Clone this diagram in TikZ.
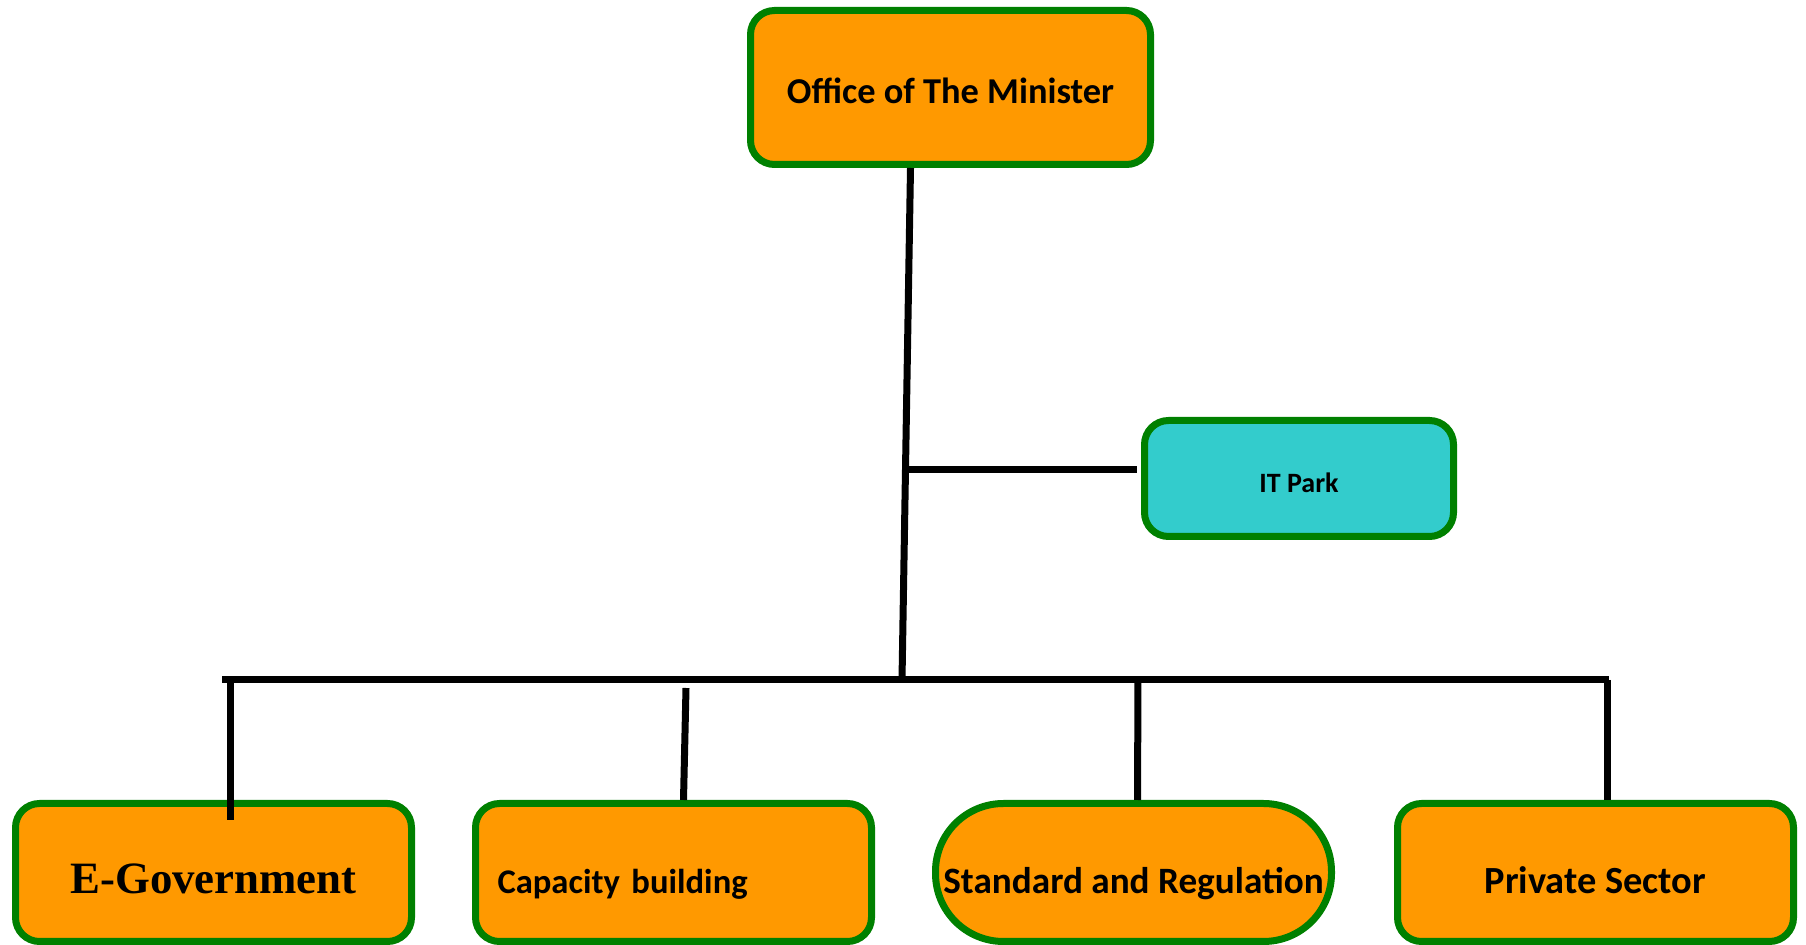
\documentclass[tikz,border=0pt]{standalone}
\usepackage{fontspec}
\setmainfont{Carlito}
\newfontfamily\timesfont{Liberation Serif}
\usetikzlibrary{positioning}
\definecolor{boxorange}{HTML}{FF9900}
\definecolor{boxgreen}{HTML}{008000}
\definecolor{boxcyan}{HTML}{33CCCC}

\begin{document}
\begin{tikzpicture}[x=0.5pt,y=-0.5pt,
				unitbox/.style={rectangle, rounded corners=12pt, draw=boxgreen, line width=3.5pt, fill=boxorange, minimum width=198pt, minimum height=69pt, text height=21.5pt, text depth=0pt, font=\bfseries\fontsize{18.6}{22}\selectfont},
				parkbox/.style={unitbox, fill=boxcyan, minimum width=154.5pt, minimum height=58pt, text height=14.5pt, font=\bfseries\fontsize{14}{16}\selectfont},
				link/.style={line width=3.5pt, black},
				]
				\useasboundingbox (0,0) rectangle (1806,945);
				%Nodes
				\node[unitbox, minimum width=200pt, minimum height=77pt, text height=16.2pt, font=\bfseries\fontsize{18.2}{22}\selectfont]      (minister) 	at 	(950.5,87.5)     {Office of The Minister};
				\node[parkbox]      (itpark) 	at 	(1299,478.5)     {IT Park};
				\node[unitbox, font=\timesfont\bfseries\fontsize{22.4}{26}\selectfont]      (egov) 	at 	(213.5,872.5)   {E-Government};
				\node[unitbox, align=left, text width=176pt, inner xsep=11pt, font=\bfseries\fontsize{17.3}{20}\selectfont]      (capacity) 	at 	(673.5,872.5)   {Capacity building};
				\node[unitbox, rounded corners=34pt, inner xsep=2pt]      (standard) 	at 	(1133.5,872.5)  {Standard and Regulation};
				\node[unitbox, font=\bfseries\fontsize{19.2}{22}\selectfont]      (private) 	at 	(1595.5,872.5)  {Private Sector};

				%Junctions
				\coordinate (junc)   at (902,680);
				\coordinate (branch) at (906,470);
				\coordinate (busl)   at (222,680);
				\coordinate (busr)   at (1609,680);
				\coordinate (d1)     at (230,680);
				\coordinate (d2)     at (686,688);
				\coordinate (d3)     at (1138,680);
				\coordinate (d4)     at (1607,680);

				%Lines
				\draw[link] ([xshift=-20pt]minister.south) -- (junc);
				\draw[link] (branch) -- ([xshift=-2pt]branch -| itpark.west);
				\draw[link] (busl) -- (busr);
				\draw[link] (d1) -- ([yshift=-10pt]d1 |- egov.north);
				\draw[link] (d2) -- ([xshift=5pt]capacity.north);
				\draw[link] (d3) -- ([xshift=2pt]standard.north);
				\draw[link] (d4) -- (d4 |- private.north);
			\end{tikzpicture}
\end{document}
